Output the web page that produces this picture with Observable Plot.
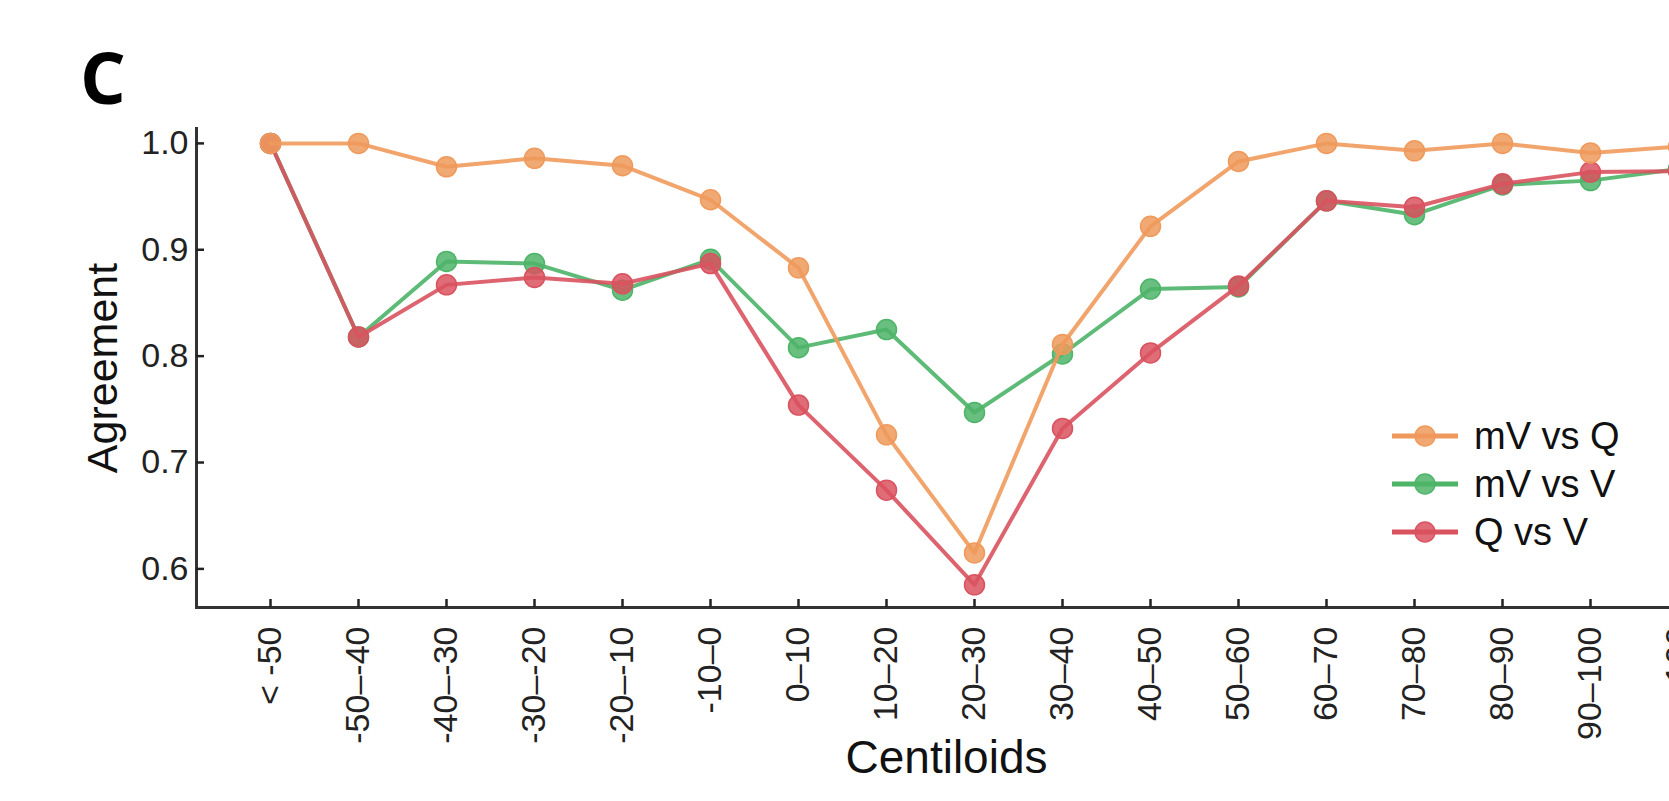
<!DOCTYPE html>
<html><head><meta charset="utf-8">
<script src="https://cdn.jsdelivr.net/npm/d3@7"></script>
<script src="https://cdn.jsdelivr.net/npm/@observablehq/plot@0.6"></script>
<style>
html,body{margin:0;padding:0;background:#fff;overflow:hidden;width:1669px;height:801px;}
#wrap{position:relative;width:1669px;height:801px;overflow:hidden;}
#chart{position:absolute;left:0;top:0;width:1696px;height:801px;}
#chart svg{max-width:none !important;}
#panel{position:absolute;left:80px;top:40px;font:bold 72px "Open Sans",sans-serif;line-height:1;color:#000;}
#legend{position:absolute;left:1392px;top:412px;font:38px "Liberation Sans",Arial,sans-serif;color:#111;}
.row{display:flex;align-items:center;height:48px;}
.row svg{display:block;margin-right:16px;}
</style></head>
<body><div id="wrap"><div id="chart"></div><div id="panel">C</div><div id="legend"></div></div>
<script>
const categories = ["< -50","-50–-40","-40–-30","-30–-20","-20–-10","-10–0","0–10","10–20","20–30","30–40","40–50","50–60","60–70","70–80","80–90","90–100","> 100"];
const mVvsQ = [1.000,1.000,0.978,0.986,0.979,0.947,0.883,0.726,0.615,0.811,0.922,0.983,1.000,0.993,1.000,0.991,0.997];
const mVvsV = [1.000,0.818,0.889,0.887,0.862,0.891,0.808,0.825,0.747,0.802,0.863,0.865,0.946,0.933,0.961,0.965,0.976];
const QvsV  = [1.000,0.818,0.867,0.874,0.868,0.887,0.754,0.674,0.585,0.732,0.803,0.866,0.946,0.940,0.962,0.973,0.974];
const seriesNames = ["mV vs Q","mV vs V","Q vs V"];
const seriesColors = ["#EF9A5C","#4DB468","#D9525F"];
const yTicks = [0.6,0.7,0.8,0.9,1.0];
const yDomain = [0.5637, 1.014];

const seriesValues = [mVvsQ, mVvsV, QvsV];
const tables = seriesValues.map((vals, s) => categories.map((c, i) => ({cat: c, value: vals[i], series: seriesNames[s]})));
const drawOrder = [1, 2, 0];

const seriesMarks = [];
for (const s of drawOrder) {
  seriesMarks.push(Plot.line(tables[s], {x: "cat", y: "value", stroke: seriesColors[s], strokeWidth: 4, strokeOpacity: 0.9}));
  seriesMarks.push(Plot.dot(tables[s], {x: "cat", y: "value", r: 10, fill: seriesColors[s], fillOpacity: 0.85, stroke: seriesColors[s], strokeWidth: 1.5}));
}

const chart = Plot.plot({
  width: 1696, height: 801,
  marginLeft: 196, marginRight: 0, marginTop: 128, marginBottom: 194,
  style: {fontFamily: "'Liberation Sans', Arial, sans-serif", color: "#222", background: "white"},
  x: {type: "point", domain: categories, range: [267, 1681.4], padding: 0},
  y: {domain: yDomain},
  marks: [
    Plot.frame({anchor: "left", stroke: "#333", strokeWidth: 3}),
    Plot.ruleY([yDomain[0]], {stroke: "#333", strokeWidth: 3}),
    Plot.axisY({ticks: yTicks, tickFormat: d3.format(".1f"), tickSize: -8, tickPadding: 16, strokeWidth: 2.5, fontSize: 34, label: null}),
    Plot.axisX({tickSize: -8, tickPadding: 27, tickRotate: -90, strokeWidth: 2.5, fontSize: 34, label: null}),
    Plot.text(["Agreement"], {frameAnchor: "left", textAnchor: "middle", rotate: -90, dx: -93, fontSize: 43, fill: "#111"}),
    Plot.text(["Centiloids"], {frameAnchor: "bottom", textAnchor: "middle", dy: 165, fontSize: 46, fill: "#111"}),
    ...seriesMarks
  ]
});
chart.style.maxWidth = "none";
document.getElementById("chart").appendChild(chart);

const legend = document.getElementById("legend");
seriesNames.forEach((name, i) => {
  const row = document.createElement("div");
  row.className = "row";
  row.innerHTML = `<svg width="66" height="24"><line x1="0" x2="66" y1="12" y2="12" stroke="${seriesColors[i]}" stroke-width="5"/><circle cx="33" cy="12" r="10" fill="${seriesColors[i]}" fill-opacity="0.85" stroke="${seriesColors[i]}" stroke-width="1.5"/></svg><span>${name}</span>`;
  legend.appendChild(row);
});
</script>
</body></html>
